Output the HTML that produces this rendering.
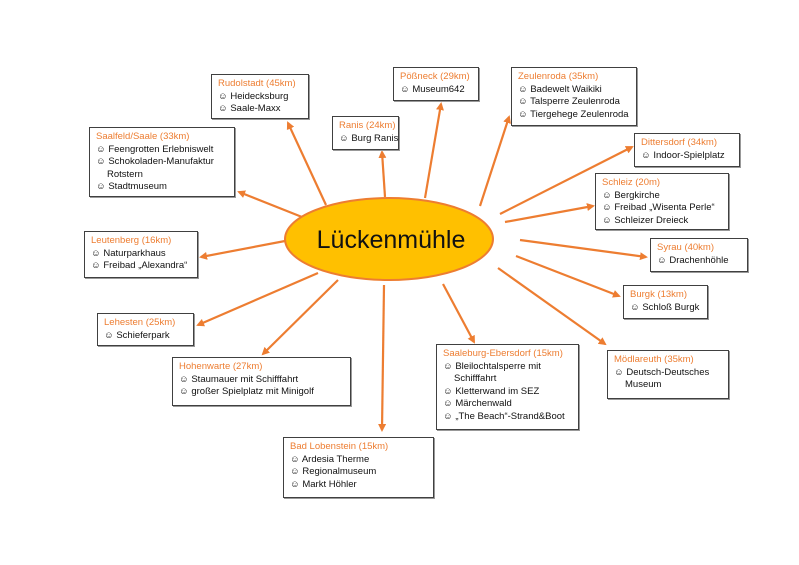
<!DOCTYPE html>
<html><head><meta charset="utf-8"><style>
body{margin:0;width:799px;height:565px;background:#fff;position:relative;overflow:hidden;font-family:"Liberation Sans",sans-serif;}
.b{position:absolute;border:1px solid #404040;box-shadow:1px 1px 0 #999;background:#fff;font-size:9.5px;line-height:12.6px;padding:3px 5px 3px 6px;box-sizing:border-box;color:#111;white-space:nowrap;overflow:hidden}
.b .t{color:#ed7d31}
.i{padding-left:11px}
svg{position:absolute;left:0;top:0}
</style></head><body>
<svg width="799" height="565">
<defs><marker id="a" markerWidth="8" markerHeight="8" refX="6" refY="4" orient="auto" markerUnits="userSpaceOnUse"><path d="M0,0L8,4L0,8z" fill="#ed7d31"/></marker></defs>
<g stroke="#ed7d31" stroke-width="2.2" marker-end="url(#a)">
<line x1="326" y1="205" x2="288" y2="123"/>
<line x1="425" y1="198" x2="441" y2="104"/>
<line x1="480" y1="206" x2="509" y2="117"/>
<line x1="385" y1="197" x2="382" y2="152"/>
<line x1="302" y1="217" x2="239" y2="192"/>
<line x1="500" y1="214" x2="632" y2="147"/>
<line x1="505" y1="222" x2="593" y2="206"/>
<line x1="285" y1="241" x2="201" y2="257"/>
<line x1="520" y1="240" x2="646" y2="257"/>
<line x1="516" y1="256" x2="619" y2="296"/>
<line x1="318" y1="273" x2="198" y2="325"/>
<line x1="338" y1="280" x2="263" y2="354"/>
<line x1="443" y1="284" x2="474" y2="342"/>
<line x1="498" y1="268" x2="605" y2="344"/>
<line x1="384" y1="285" x2="382" y2="430"/>
</g>
<ellipse cx="389" cy="239" rx="104" ry="41" fill="#ffc000" stroke="#ed7d31" stroke-width="2"/>
<text x="391" y="248" text-anchor="middle" font-family="Liberation Sans,sans-serif" font-size="25" fill="#111">Lückenmühle</text>
</svg>
<div class="b" style="left:211px;top:74px;width:98px;height:45px"><div class="t">Rudolstadt (45km)</div>☺ Heidecksburg<br>☺ Saale-Maxx</div>
<div class="b" style="left:393px;top:67px;width:86px;height:34px"><div class="t">Pößneck (29km)</div>☺ Museum642</div>
<div class="b" style="left:511px;top:67px;width:126px;height:59px"><div class="t">Zeulenroda (35km)</div>☺ Badewelt Waikiki<br>☺ Talsperre Zeulenroda<br>☺ Tiergehege Zeulenroda</div>
<div class="b" style="left:332px;top:116px;width:67px;height:34px"><div class="t">Ranis (24km)</div>☺ Burg Ranis</div>
<div class="b" style="left:89px;top:127px;width:146px;height:70px"><div class="t">Saalfeld/Saale (33km)</div>☺ Feengrotten Erlebniswelt<br>☺ Schokoladen-Manufaktur<div class="i">Rotstern</div>☺ Stadtmuseum</div>
<div class="b" style="left:634px;top:133px;width:106px;height:34px"><div class="t">Dittersdorf (34km)</div>☺ Indoor-Spielplatz</div>
<div class="b" style="left:595px;top:173px;width:134px;height:57px"><div class="t">Schleiz (20m)</div>☺ Bergkirche<br>☺ Freibad „Wisenta Perle“<br>☺ Schleizer Dreieck</div>
<div class="b" style="left:84px;top:231px;width:114px;height:47px"><div class="t">Leutenberg (16km)</div>☺ Naturparkhaus<br>☺ Freibad „Alexandra“</div>
<div class="b" style="left:650px;top:238px;width:98px;height:34px"><div class="t">Syrau (40km)</div>☺ Drachenhöhle</div>
<div class="b" style="left:623px;top:285px;width:85px;height:34px"><div class="t">Burgk (13km)</div>☺ Schloß Burgk</div>
<div class="b" style="left:97px;top:313px;width:97px;height:33px"><div class="t">Lehesten (25km)</div>☺ Schieferpark</div>
<div class="b" style="left:172px;top:357px;width:179px;height:49px"><div class="t">Hohenwarte (27km)</div>☺ Staumauer mit Schifffahrt<br>☺ großer Spielplatz mit Minigolf</div>
<div class="b" style="left:436px;top:344px;width:143px;height:86px"><div class="t">Saaleburg-Ebersdorf (15km)</div>☺ Bleilochtalsperre mit<div class="i">Schifffahrt</div>☺ Kletterwand im SEZ<br>☺ Märchenwald<br>☺ „The Beach“-Strand&amp;Boot</div>
<div class="b" style="left:607px;top:350px;width:122px;height:49px"><div class="t">Mödlareuth (35km)</div>☺ Deutsch-Deutsches<div class="i">Museum</div></div>
<div class="b" style="left:283px;top:437px;width:151px;height:61px"><div class="t">Bad Lobenstein (15km)</div>☺ Ardesia Therme<br>☺ Regionalmuseum<br>☺ Markt Höhler</div>
</body></html>
